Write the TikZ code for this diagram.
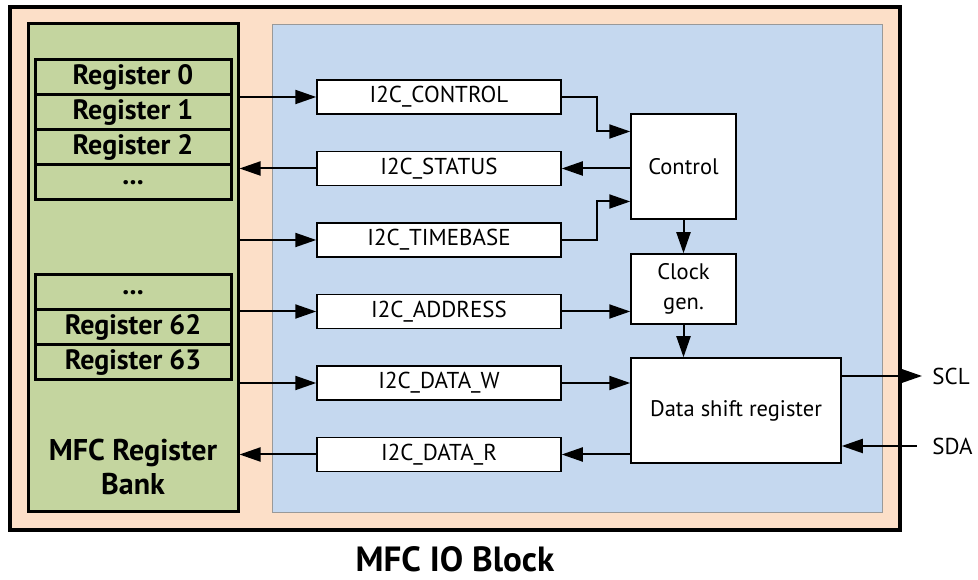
\documentclass[tikz,border=0pt]{standalone}
\usepackage{fontspec}
\setmainfont{PT Sans}
\usetikzlibrary{arrows.meta,positioning}
\definecolor{peach}{HTML}{FCDFC8}
\definecolor{bankgreen}{HTML}{C4D59F}
\definecolor{panelblue}{HTML}{C5D8EF}

\begin{document}
\begin{tikzpicture}[x=1pt, y=1pt, thick,
    >={Triangle[length=21pt,width=14pt]},
    reg/.style = {draw, line width=3pt, fill=bankgreen, outer sep=0pt, inner sep=0pt,
        minimum width=196pt, minimum height=35pt, font=\fontsize{28}{30}\selectfont\bfseries},
    hwreg/.style = {draw, line width=1.5pt, fill=white, inner sep=0pt,
        minimum width=244pt, minimum height=34pt, font=\fontsize{23}{26}\selectfont},
    unit/.style = {draw, line width=1.5pt, fill=white, inner sep=0pt, align=center,
        minimum width=105pt, minimum height=105pt, font=\fontsize{22.5}{30}\selectfont},
    wire/.style = {line width=2pt}]
    \useasboundingbox (0,0) rectangle (978,580);

    % outer block and panels
    \draw[line width=4pt, fill=peach] (10,50) rectangle (900,573);
    \draw[gray!80, fill=panelblue] (272,68) rectangle (882,556);
    \node[draw, line width=3pt, fill=bankgreen, minimum width=210pt, minimum height=488pt] (bank) at (133,312) {};

    % register bank
    \node[reg] (r0) at (133,502.5) {Register 0};
    \node[reg] (r1) [below=0pt of r0] {Register 1};
    \node[reg] (r2) [below=0pt of r1] {Register 2};
    \node[reg] (r3) [below=0pt of r2] {...};
    \node[reg] (r61) at (133,287.5) {...};
    \node[reg] (r62) [below=0pt of r61] {Register 62};
    \node[reg] (r63) [below=0pt of r62] {Register 63};
    \node[align=center, font=\fontsize{30}{34}\selectfont\bfseries] (banklabel) at (133,113) {MFC Register\\Bank};

    % I2C registers
    \node[hwreg] (ictl) at (439,483) {I2C\_CONTROL};
    \node[hwreg] (ista) [below=36pt of ictl] {I2C\_STATUS};
    \node[hwreg] (itb)  [below=36pt of ista] {I2C\_TIMEBASE};
    \node[hwreg] (iadr) [below=36pt of itb] {I2C\_ADDRESS};
    \node[hwreg] (idw)  [below=36pt of iadr] {I2C\_DATA\_W};
    \node[hwreg] (idr)  [below=36pt of idw] {I2C\_DATA\_R};

    % logic
    \node[unit] (ctrl) at (683.5,413.5) {Control};
    \node[unit, minimum height=70pt] (clk) at (683.5,291) {Clock\\gen.};
    \node[unit, minimum width=210pt] (dsr) at (736,169.5) {Data shift register};

    \node[anchor=west, inner sep=0pt, font=\fontsize{23}{26}\selectfont] (scl) at (932,204) {SCL};
    \node[anchor=west, inner sep=0pt, font=\fontsize{23}{26}\selectfont] (sda) at (932,134) {SDA};
    \node[anchor=base, inner sep=0pt, font=\fontsize{35}{38}\selectfont\bfseries] (title) at (455,8.5) {MFC IO Block};

    % bank <-> registers
    \draw[wire, ->] (bank.east |- ictl.west) -- (ictl.west);
    \draw[wire, <-] (bank.east |- ista.west) -- (ista.west);
    \draw[wire, ->] (bank.east |- itb.west) -- (itb.west);
    \draw[wire, ->] (bank.east |- iadr.west) -- (iadr.west);
    \draw[wire, ->] (bank.east |- idw.west) -- (idw.west);
    \draw[wire, <-] (bank.east |- idr.west) -- (idr.west);

    % registers <-> logic
    \draw[wire, ->] (ictl.east) -- ++(35,0) |- ([yshift=35pt]ctrl.west);
    \draw[wire, ->] (ctrl.west |- ista.east) -- (ista.east);
    \draw[wire, ->] (itb.east) -- ++(35,0) |- ([yshift=-35pt]ctrl.west);
    \draw[wire, ->] (ctrl.south) -- (clk.north);
    \draw[wire, ->] (iadr.east) -- (clk.west |- iadr.east);
    \draw[wire, ->] (clk.south) -- (clk.south |- dsr.north);
    \draw[wire, ->] (idw.east) -- (dsr.west |- idw.east);
    \draw[wire, ->] (dsr.west |- idr.east) -- (idr.east);

    % bus lines
    \draw[wire, ->] (dsr.east |- scl.west) -- ([xshift=-10pt]scl.west);
    \draw[wire, <-] (dsr.east |- sda.west) -- ([xshift=-15pt]sda.west);

\end{tikzpicture}
\end{document}
